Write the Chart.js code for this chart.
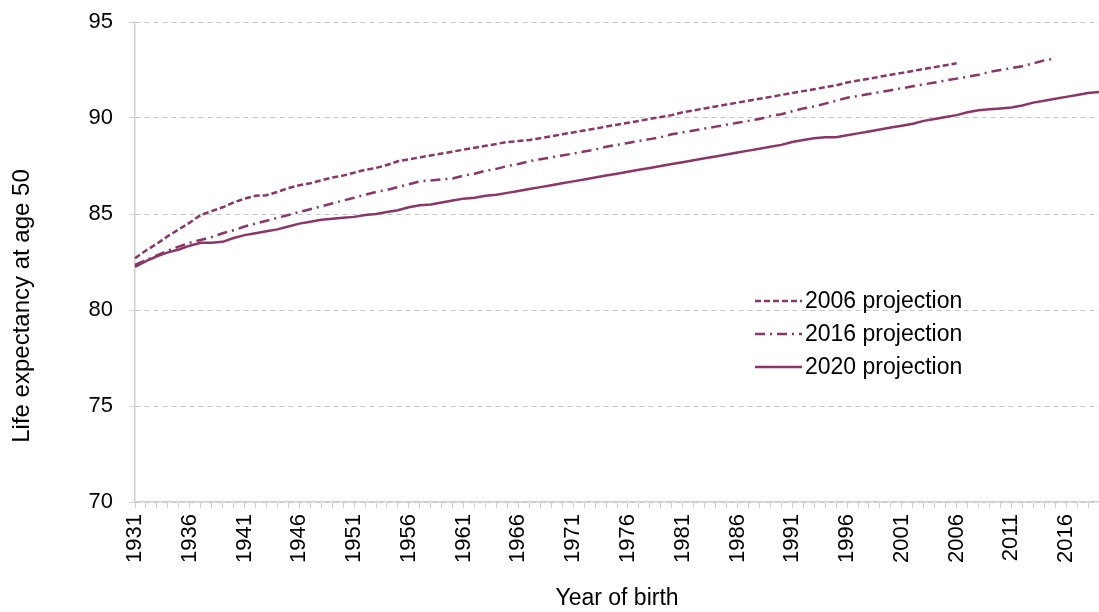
<!DOCTYPE html>
<html>
<head>
<meta charset="utf-8">
<script src="https://cdn.jsdelivr.net/npm/chart.js@4/dist/chart.umd.min.js"></script>
<style>
  html, body { margin: 0; padding: 0; background: #fff; }
  #wrap { width: 1099px; height: 612px; position: relative; }
</style>
</head>
<body>
<div id="wrap"><canvas id="lifeChart"></canvas></div>
<script>
// year of birth, 1931 to 2019
const years = Array.from({ length: 89 }, (_, i) => 1931 + i);

// life expectancy at age 50, 2006-based projection (1931-2006)
const proj2006 = [
  82.7, 83.1, 83.45, 83.85, 84.2, 84.55, 84.95, 85.15, 85.35, 85.6,
  85.8, 85.95, 85.98, 86.15, 86.35, 86.5, 86.6, 86.75, 86.9, 87.0,
  87.15, 87.3, 87.4, 87.55, 87.75, 87.85, 87.95, 88.05, 88.15, 88.25,
  88.35, 88.45, 88.55, 88.65, 88.75, 88.8, 88.85, 88.95, 89.05, 89.15,
  89.25, 89.35, 89.45, 89.55, 89.65, 89.75, 89.85, 89.95, 90.05, 90.15,
  90.3, 90.4, 90.5, 90.6, 90.7, 90.8, 90.9, 91.0, 91.1, 91.2,
  91.3, 91.4, 91.5, 91.6, 91.7, 91.85, 91.95, 92.05, 92.15, 92.25,
  92.35, 92.45, 92.55, 92.65, 92.75, 92.85
];

// 2016-based projection (1931-2015)
const proj2016 = [
  82.35, 82.6, 82.85, 83.1, 83.3, 83.5, 83.65, 83.8, 84.0, 84.15,
  84.35, 84.5, 84.65, 84.8, 84.95, 85.1, 85.25, 85.4, 85.55, 85.7,
  85.85, 86.0, 86.15, 86.25, 86.4, 86.55, 86.7, 86.75, 86.8, 86.85,
  87.0, 87.1, 87.25, 87.35, 87.5, 87.6, 87.75, 87.85, 87.95, 88.05,
  88.15, 88.25, 88.35, 88.5, 88.6, 88.7, 88.8, 88.9, 89.0, 89.15,
  89.25, 89.35, 89.45, 89.55, 89.65, 89.75, 89.85, 89.95, 90.1, 90.2,
  90.35, 90.5, 90.6, 90.75, 90.9, 91.05, 91.15, 91.25, 91.35, 91.45,
  91.55, 91.65, 91.75, 91.85, 91.95, 92.05, 92.15, 92.25, 92.4, 92.5,
  92.6, 92.7, 92.85, 93.0, 93.1
];

// 2020-based projection (1931-2019)
const proj2020 = [
  82.25, 82.55, 82.8, 83.0, 83.15, 83.35, 83.5, 83.5, 83.55, 83.75,
  83.9, 84.0, 84.1, 84.2, 84.35, 84.5, 84.6, 84.7, 84.75, 84.8,
  84.85, 84.95, 85.0, 85.1, 85.2, 85.35, 85.45, 85.5, 85.6, 85.7,
  85.8, 85.85, 85.95, 86.0, 86.1, 86.2, 86.3, 86.4, 86.5, 86.6,
  86.7, 86.8, 86.9, 87.0, 87.1, 87.2, 87.3, 87.4, 87.5, 87.6,
  87.7, 87.8, 87.9, 88.0, 88.1, 88.2, 88.3, 88.4, 88.5, 88.6,
  88.75, 88.85, 88.95, 89.0, 89.0, 89.1, 89.2, 89.3, 89.4, 89.5,
  89.6, 89.7, 89.85, 89.95, 90.05, 90.15, 90.3, 90.4, 90.45, 90.5,
  90.55, 90.65, 90.8, 90.9, 91.0, 91.1, 91.2, 91.3, 91.35
];

const seriesNames = ['2006 projection', '2016 projection', '2020 projection'];
const yTitle = 'Life expectancy at age 50';

const lineColor = '#8c3566';
const fontFamily = '"Liberation Sans", Arial, sans-serif';

// legend drawn inside the plot, like the original
const insideLegend = {
  id: 'insideLegend',
  afterDatasetsDraw(chart) {
    const ctx = chart.ctx;
    const x0 = 755, x1 = 802, top = 301, step = 33;
    ctx.save();
    chart.data.datasets.forEach((ds, i) => {
      const y = top + i * step;
      ctx.strokeStyle = ds.borderColor;
      ctx.lineWidth = ds.borderWidth;
      ctx.setLineDash(ds.borderDash || []);
      ctx.beginPath();
      ctx.moveTo(x0, y);
      ctx.lineTo(x1, y);
      ctx.stroke();
      ctx.setLineDash([]);
      ctx.fillStyle = '#000';
      ctx.font = '23px ' + fontFamily;
      ctx.textBaseline = 'middle';
      ctx.fillText(ds.label, x1 + 3, y + 1);
    });
    ctx.restore();
  }
};

// y axis title sits a bit below the middle of the axis in the original
const yAxisTitle = {
  id: 'yAxisTitle',
  afterDraw(chart) {
    const ctx = chart.ctx;
    ctx.save();
    ctx.translate(22, 306);
    ctx.rotate(-Math.PI / 2);
    ctx.fillStyle = '#000';
    ctx.font = '24px ' + fontFamily;
    ctx.textAlign = 'center';
    ctx.textBaseline = 'middle';
    ctx.fillText(yTitle, 0, 0);
    ctx.restore();
  }
};

const ctx = document.getElementById('lifeChart');

new Chart(ctx, {
  type: 'line',
  data: {
    labels: years,
    datasets: [
      { label: seriesNames[0], data: proj2006, borderColor: lineColor, borderWidth: 2.5, borderDash: [6, 3], pointRadius: 0, fill: false },
      { label: seriesNames[1], data: proj2016, borderColor: lineColor, borderWidth: 2.5, borderDash: [10, 5, 2, 5], pointRadius: 0, fill: false },
      { label: seriesNames[2], data: proj2020, borderColor: lineColor, borderWidth: 2.5, pointRadius: 0, fill: false }
    ]
  },
  options: {
    responsive: true,
    maintainAspectRatio: false,
    animation: false,
    layout: { padding: { top: 22, right: 0, left: 0, bottom: 0 } },
    plugins: {
      legend: { display: false },
      tooltip: { enabled: false }
    },
    scales: {
      x: {
        type: 'category',
        offset: false,
        afterFit: function (scale) {
          scale.height = 110;
          scale.paddingRight = 0;
          scale.paddingLeft = 0;
        },
        grid: { drawOnChartArea: false, tickLength: 6, color: '#d0d0d0', tickColor: '#d0d0d0' },
        border: { color: '#d0d0d0', width: 1.5 },
        ticks: {
          autoSkip: false,
          maxRotation: 90,
          minRotation: 90,
          padding: 6,
          color: '#000',
          font: { family: fontFamily, size: 22 },
          callback: function (value, index) {
            const yr = years[index];
            return (yr - 1931) % 5 === 0 ? String(yr) : '';
          }
        },
        title: {
          display: true,
          text: 'Year of birth',
          color: '#000',
          font: { family: fontFamily, size: 23 },
          padding: { top: 4, bottom: 0 }
        }
      },
      y: {
        min: 70,
        max: 95,
        afterFit: function (scale) {
          scale.width = 135;
          scale.paddingTop = 0;
          scale.paddingBottom = 0;
        },
        grid: { color: '#c6c6c6', tickLength: 6, tickColor: '#d0d0d0', tickBorderDash: [] },
        border: { color: '#d0d0d0', width: 1.5, dash: [5, 4] },
        ticks: {
          stepSize: 5,
          padding: 16,
          color: '#000',
          font: { family: fontFamily, size: 22 }
        },
        title: { display: false }
      }
    }
  },
  plugins: [insideLegend, yAxisTitle]
});
</script>
</body>
</html>
